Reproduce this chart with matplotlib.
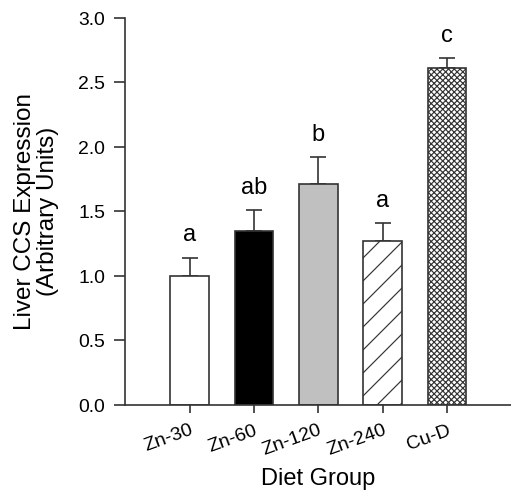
import numpy as np
from matplotlib import pyplot as plt

# the hatch cell is one inch wide, so a higher dpi gives the sparser
# diagonal lines of the original; every size below is given for 100 dpi
DPI = 138
k = 100.0 / DPI

plt.rcParams['font.family'] = ['Liberation Sans', 'DejaVu Sans']
plt.rcParams['hatch.linewidth'] = 0.85 * k

# data
groups = ["Zn-30", "Zn-60", "Zn-120", "Zn-240", "Cu-D"]
means = [1.00, 1.35, 1.715, 1.27, 2.61]
errs = [0.14, 0.16, 0.205, 0.14, 0.075]
letters = ["a", "ab", "b", "a", "c"]

fills = ["white", "black", "#c0c0c0", "white", "white"]
hatches = [None, None, None, "//", "xxxxxxxx"]
edge = "#333333"

fig = plt.figure(figsize=(511.3 / DPI, 490.3 / DPI), dpi=DPI)
ax = fig.add_axes([0.245, 0.1735, 0.755, 0.7895])

x = np.arange(len(groups))
for i in range(len(groups)):
    ax.bar(x[i], means[i], width=0.6, color=fills[i], edgecolor=edge,
           linewidth=1.2 * k, hatch=hatches[i], zorder=2)
ax.errorbar(x, means, yerr=[np.zeros(len(errs)), errs], fmt="none",
            ecolor=edge, elinewidth=1.2 * k, capsize=6 * k, capthick=1.2 * k,
            zorder=1)

for i in range(len(groups)):
    ax.text(x[i], means[i] + errs[i] + 0.13, letters[i], ha="center",
            va="baseline", fontsize=17 * k)

ax.set_xlim(-1, 5)
ax.set_ylim(0, 3.0)
yt = np.arange(0, 3.01, 0.5)
ax.set_yticks(yt)
ax.set_yticklabels(["%.1f" % v for v in yt], fontsize=14 * k)
ax.set_xticks(x)
ax.set_xticklabels(groups, rotation=20, ha="right", rotation_mode="anchor",
                   fontsize=14 * k)
ax.tick_params(axis="both", direction="out", width=1.2 * k, color=edge)
ax.tick_params(axis="y", length=8 * k, pad=6.5 * k)
ax.tick_params(axis="x", length=6 * k, pad=6 * k)

for s in ["top", "right"]:
    ax.spines[s].set_visible(False)
for s in ["left", "bottom"]:
    ax.spines[s].set_linewidth(1.2 * k)
    ax.spines[s].set_color(edge)

ax.set_xlabel("Diet Group", fontsize=17 * k, labelpad=6.5 * k)
ax.set_ylabel("Liver CCS Expression\n(Arbitrary Units)", fontsize=17.5 * k,
              labelpad=13.5 * k, linespacing=1.1)

plt.savefig("out.png", dpi=DPI)
